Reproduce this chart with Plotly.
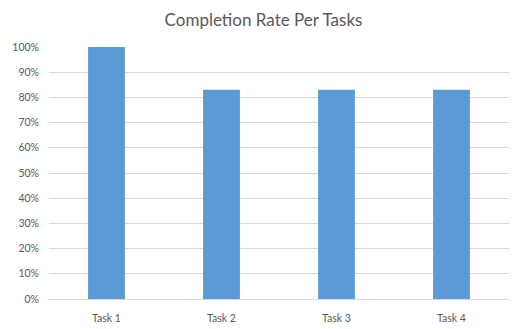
import plotly.graph_objects as go

tasks = ["Task 1", "Task 2", "Task 3", "Task 4"]
completion = [1.00, 0.83, 0.83, 0.83]
ytick_vals = [0, 0.1, 0.2, 0.3, 0.4, 0.5, 0.6, 0.7, 0.8, 0.9, 1.0]
ytick_text = ["0%", "10%", "20%", "30%", "40%", "50%", "60%", "70%", "80%", "90%", "100%"]

fig = go.Figure(go.Bar(x=tasks, y=completion, marker_color="#5b9bd5",
                       marker_line_width=0, width=0.32))
fig.update_layout(
    width=527, height=329,
    margin=dict(l=49, r=18, t=47, b=30),
    paper_bgcolor="white", plot_bgcolor="white",
    font=dict(family="Lato, Open Sans, sans-serif", color="#595959", size=10),
    title=dict(text="Completion Rate Per Tasks", x=0.5, xanchor="center",
               y=0.94, yanchor="middle", font=dict(size=17, color="#595959")),
    showlegend=False,
    bargap=0.68,
)
fig.update_yaxes(range=[0, 1.0], tickvals=ytick_vals, ticktext=ytick_text,
                 showgrid=True, gridcolor="#d9d9d9", gridwidth=1,
                 zeroline=False, ticks="", ticklabelstandoff=9, automargin=False,
                 tickfont=dict(size=10.5, color="#595959"))
fig.update_xaxes(showline=True, linecolor="#d9d9d9", linewidth=1, ticks="",
                 ticklabelstandoff=9, automargin=False,
                 tickfont=dict(size=10.5, color="#595959"))
fig.write_html("out.html")
